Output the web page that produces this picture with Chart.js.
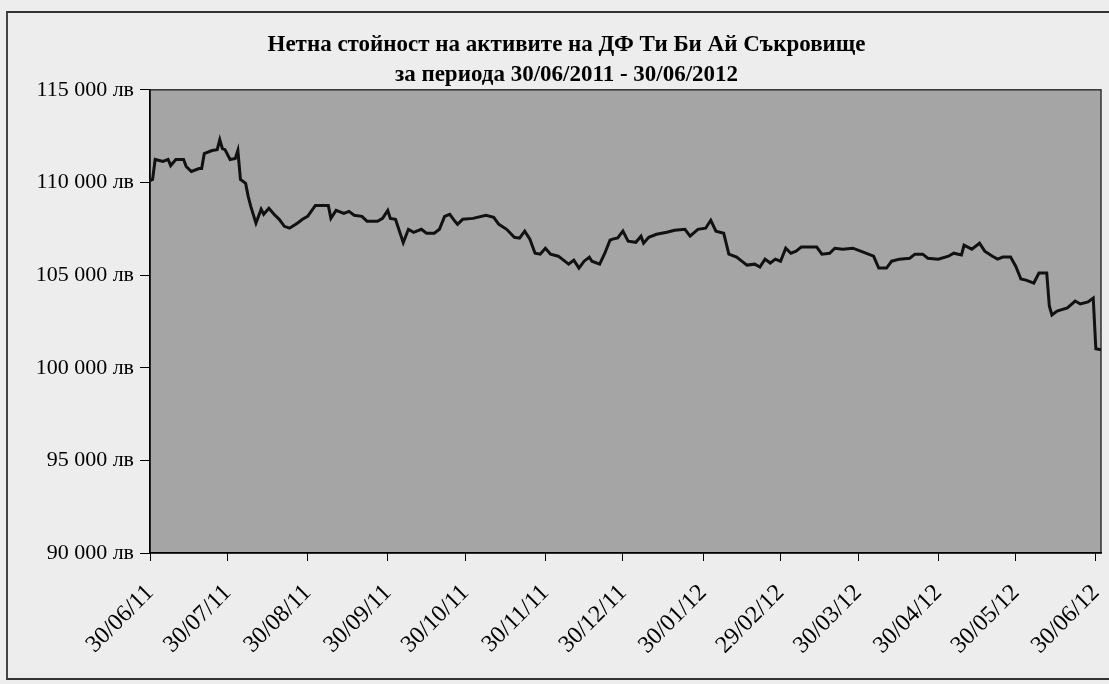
<!DOCTYPE html>
<html>
<head>
<meta charset="utf-8">
<script src="https://cdn.jsdelivr.net/npm/chart.js@4/dist/chart.umd.min.js"></script>
<style>
    body { margin: 0; background: #ededed; overflow: hidden; }
    #frame {
        position: absolute; left: 6px; top: 11px; width: 1110px; height: 665px;
        border-top: 2px solid #333; border-left: 2px solid #444; border-bottom: 2px solid #333;
    }
    #navChart { position: absolute; left: 32px; top: 13px; display: block; }
</style>
</head>
<body>
<div id="frame"></div>
<canvas id="navChart" width="1092" height="665"></canvas>
<script>
// x = days since 30/06/2011, y = net asset value (лв)
const days = [0, 1, 2, 5, 7, 8, 10, 13, 14, 16, 19, 20, 21, 24, 26, 27, 28, 29, 31, 33, 34, 35, 37, 38, 39, 41,
    43, 44, 46, 48, 50, 52, 54, 57, 59, 61, 64, 69, 70, 72, 75, 77, 79, 82, 84, 88, 90, 92, 93, 95, 98,
    100, 102, 105, 107, 110, 112, 114, 116, 118, 119, 121, 125, 130, 133, 135, 138, 141, 143, 145, 147, 149,
    151, 153, 155, 158, 162, 164, 166, 168, 170, 171, 174, 176, 178, 179, 181, 183, 185, 188, 190, 191, 193,
    196, 200, 203, 207, 209, 212, 215, 217, 219, 222, 224, 227, 229, 231, 234, 236, 238, 240, 242, 244, 246,
    248, 250, 252, 258, 260, 263, 265, 268, 272, 276, 280, 282, 285, 287, 290, 294, 296, 299, 301, 305, 309,
    311, 314, 315, 318, 321, 323, 326, 328, 330, 333, 335, 337, 339, 342, 344, 347, 348, 349, 351, 355, 358,
    360, 363, 365, 366, 368];
const nav = [110100, 110160, 111240, 111130, 111240, 110910, 111240, 111240, 110860, 110590, 110750, 110750,
    111560, 111720, 111770, 112310, 111830, 111770, 111240, 111290, 111720, 110160, 109950, 109250, 108710, 107800,
    108550, 108280, 108600, 108280, 108010, 107630, 107530, 107800, 108010, 108170, 108760, 108760, 108060, 108490,
    108330, 108440, 108230, 108170, 107900, 107900, 108060, 108490, 108060, 108010, 106750,
    107470, 107310, 107470, 107260, 107260, 107470, 108170, 108280, 107900, 107740, 108010, 108060, 108230, 108120,
    107740, 107470, 107040, 106990, 107370, 106940, 106180,
    106130, 106450, 106130, 106020, 105590, 105810, 105380, 105750, 105970, 105750, 105590, 106180, 106880, 106940,
    107000, 107370, 106830, 106770, 107100, 106720, 107040,
    107200, 107310, 107420, 107470, 107100, 107470, 107530, 107960, 107370, 107260, 106130, 105970, 105750, 105540,
    105590, 105430, 105860, 105650, 105860, 105750, 106450,
    106180, 106290, 106510, 106510, 106130, 106180, 106450, 106400, 106450, 106240, 106020, 105380, 105380, 105750,
    105860, 105910, 106130, 106130, 105910, 105860, 106020,
    106180, 106080, 106610, 106400, 106720, 106290, 106020, 105860, 105970, 105970, 105480, 104790, 104730, 104570,
    105110, 105110, 103330, 102850, 103060, 103230, 103600,
    103440, 103550, 103760, 101020, 100970];

const tickDays = [0, 30, 61, 92, 122, 153, 183, 214, 244, 274, 305, 335, 366];
const tickLabels = ['30/06/11', '30/07/11', '30/08/11', '30/09/11', '30/10/11', '30/11/11', '30/12/11',
    '30/01/12', '29/02/12', '30/03/12', '30/04/12', '30/05/12', '30/06/12'];
const titleLines = ['Нетна стойност на активите на ДФ Ти Би Ай Съкровище', 'за периода 30/06/2011 - 30/06/2012'];

const serif = "'Liberation Serif', 'Times New Roman', serif";

// grey plot area with a thin border, like the Excel original
const plotBackground = {
    id: 'plotBackground',
    beforeDraw(chart) {
        const { ctx, chartArea: a } = chart;
        ctx.save();
        ctx.fillStyle = '#a5a5a5';
        ctx.fillRect(a.left, a.top, a.right - a.left, a.bottom - a.top);
        ctx.strokeStyle = '#333';
        ctx.lineWidth = 1.5;
        ctx.strokeRect(a.left, a.top, a.right - a.left, a.bottom - a.top);
        ctx.restore();
    }
};

const points = days.map((d, i) => ({ x: d, y: nav[i] }));

new Chart(document.getElementById('navChart'), {
    type: 'line',
    data: {
        datasets: [{
            data: points,
            borderColor: '#111',
            borderWidth: 3,
            pointRadius: 0,
            tension: 0
        }]
    },
    options: {
        responsive: false,
        animation: false,
        layout: { padding: { left: 0, right: 23, bottom: 0 } },
        plugins: {
            legend: { display: false },
            tooltip: { enabled: false },
            title: {
                display: true,
                text: titleLines,
                color: '#000',
                font: { family: serif, size: 23, weight: 'bold', lineHeight: 1.3 },
                padding: { top: 17, bottom: 0 }
            }
        },
        scales: {
            x: {
                type: 'linear',
                min: 0,
                max: 368,
                afterBuildTicks: scale => {
                    scale.ticks = tickDays.map(v => ({ value: v }));
                },
                afterFit: scale => {
                    scale.height = 125;
                    scale.paddingLeft = 0;
                    scale.paddingRight = 0;
                },
                grid: { drawOnChartArea: false, drawTicks: true, tickLength: 8, color: '#000' },
                border: { display: true, color: '#000', width: 1.5 },
                ticks: {
                    autoSkip: false,
                    minRotation: 45,
                    maxRotation: 45,
                    padding: 18,
                    color: '#000',
                    font: { family: serif, size: 24 },
                    callback: v => tickLabels[tickDays.indexOf(v)]
                }
            },
            y: {
                min: 90000,
                max: 115000,
                afterFit: scale => { scale.width = 118; },
                grid: { drawOnChartArea: false, drawTicks: true, tickLength: 10, color: '#000' },
                border: { display: true, color: '#000', width: 1.5 },
                ticks: {
                    stepSize: 5000,
                    padding: 6,
                    color: '#000',
                    font: { family: serif, size: 22 },
                    callback: v => v.toLocaleString('en-US').replace(',', ' ') + ' лв'
                }
            }
        }
    },
    plugins: [plotBackground]
});
</script>
</body>
</html>
